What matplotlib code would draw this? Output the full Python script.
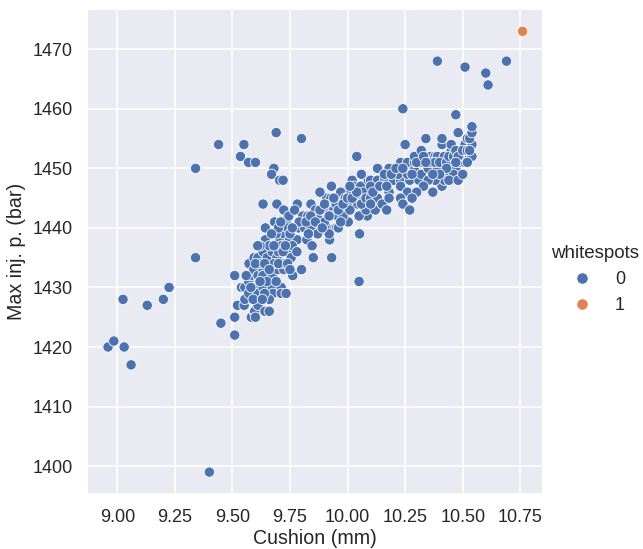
import matplotlib
matplotlib.use("Agg")
import matplotlib.pyplot as plt
import seaborn as sns
import pandas as pd

# Points (cushion in mm, max injection pressure in bar)
cushion = [
    8.96, 8.985, 9.03, 9.06, 9.025, 9.13, 9.20, 9.225, 9.34, 9.34, 9.40, 9.45,
    9.44, 9.51, 9.51, 9.51, 9.55, 9.535, 9.57, 9.60, 9.69, 9.80, 9.68, 9.67,
    9.705, 9.72, 10.04, 10.02, 10.05, 10.24, 10.39, 10.51, 10.60, 10.61, 10.69,
    10.47,
    # left part of the main band
    9.522, 9.539, 9.551, 9.554, 9.554, 9.571, 9.571, 9.572, 9.58, 9.582, 9.593,
    9.594, 9.594, 9.597, 9.597, 9.60, 9.611, 9.611, 9.611, 9.611, 9.633, 9.633,
    9.633, 9.633, 9.633, 9.641, 9.643, 9.643, 9.651, 9.673, 9.673, 9.673, 9.676,
    9.683, 9.693, 9.693, 9.697, 9.705, 9.712, 9.712, 9.712, 9.723, 9.723, 9.723,
    9.726, 9.733, 9.733, 9.741, 9.745, 9.748, 9.755, 9.762, 9.781, 9.782, 9.787,
    9.80, 9.805, 9.813, 9.823, 9.827, 9.841, 9.841, 9.846, 9.851,
    9.62, 9.66, 9.69, 9.70, 9.65, 9.68, 9.74, 9.76, 9.78, 9.79, 9.62, 9.59,
    9.66, 9.70, 9.77, 9.75,
    9.56, 9.58, 9.60, 9.62, 9.64, 9.66, 9.68, 9.70, 9.72, 9.74, 9.64, 9.66,
    9.61, 9.67, 9.71, 9.73, 9.76, 9.69, 9.63, 9.75,
    # middle of the band
    9.909, 9.928, 9.945, 9.913, 9.94, 9.928, 9.957, 9.91, 9.945, 9.952, 9.863,
    9.87, 9.888, 9.922, 10.0, 10.03, 10.057, 10.043, 10.072, 10.10, 10.115,
    10.122, 10.086, 10.043, 10.07, 10.003, 10.052, 9.931,
    9.88, 9.90, 9.95, 9.97, 9.98, 10.0, 10.01, 10.05, 10.07, 9.96, 9.99, 9.93,
    9.87, 9.86, 10.09, 10.06, 10.08, 9.92,
    9.82, 9.84, 9.86, 9.88, 9.90, 9.92, 9.94, 9.96, 9.98, 10.0, 10.02, 10.04,
    10.06, 10.08, 9.89, 9.83, 9.97, 10.01,
    # right part of the band
    10.10, 10.13, 10.16, 10.20, 10.23, 10.27, 10.31, 10.10, 10.15, 10.23, 10.26,
    10.18, 10.13, 10.18, 10.16, 10.22, 10.26, 10.29, 10.32, 10.23, 10.26, 10.29,
    10.32, 10.35, 10.39, 10.42, 10.45, 10.47, 10.49, 10.51, 10.29, 10.36, 10.38,
    10.39, 10.42, 10.50, 10.53, 10.54, 10.49, 10.32, 10.45, 10.41, 10.45, 10.51,
    10.54, 10.52, 10.53, 10.54, 10.34, 10.41, 10.25, 10.48, 10.54, 10.37, 10.41,
    10.42, 10.23, 10.24, 10.27, 10.12,
    10.46, 10.44, 10.48, 10.50, 10.38, 10.35, 10.33, 10.30, 10.28,
    10.10, 10.13, 10.15, 10.18, 10.10, 10.17,
    10.11, 10.14, 10.17, 10.19, 10.21, 10.24, 10.28, 10.30, 10.33, 10.36, 10.38,
    10.40, 10.43, 10.44, 10.46, 10.47, 10.48, 10.50, 10.52, 10.43, 10.40, 10.37,
    10.34, 10.47, 10.52, 10.53,
    # the single whitespot part
    10.76,
]
max_inj = [
    1420, 1421, 1420, 1417, 1428, 1427, 1428, 1430, 1435, 1450, 1399, 1424,
    1454, 1425, 1422, 1432, 1454, 1452, 1451, 1451, 1456, 1455, 1450, 1449,
    1448, 1448, 1452, 1448, 1431, 1460, 1468, 1467, 1466, 1464, 1468,
    1459,
    1427, 1430, 1427, 1428, 1430, 1429, 1431, 1434, 1432, 1425, 1433,
    1435, 1426, 1430, 1426, 1425, 1432, 1435, 1429, 1427, 1444, 1436,
    1433, 1432, 1430, 1426, 1440, 1438, 1435, 1436, 1432, 1430, 1429,
    1441, 1444, 1435, 1433, 1438, 1437, 1430, 1429, 1443, 1439, 1433,
    1434, 1441, 1429, 1436, 1442, 1438, 1435, 1432, 1438, 1444, 1440,
    1433, 1442, 1440, 1438, 1442, 1444, 1440, 1437, 1435,
    1434, 1437, 1439, 1436, 1431, 1434, 1440, 1437, 1436, 1441, 1437, 1428,
    1428, 1440, 1443, 1439,
    1432, 1430, 1434, 1431, 1434, 1433, 1437, 1434, 1436, 1434, 1429, 1426,
    1437, 1439, 1441, 1437, 1440, 1431, 1428, 1433,
    1445, 1445, 1445, 1443, 1443, 1442, 1442, 1440, 1440, 1440, 1441,
    1442, 1443, 1438, 1446, 1447, 1447, 1445, 1445, 1446, 1447,
    1443, 1442, 1444, 1444, 1441, 1439, 1435,
    1446, 1441, 1444, 1446, 1442, 1444, 1443, 1442, 1446, 1440, 1445, 1447,
    1439, 1443, 1448, 1449, 1443, 1439,
    1441, 1442, 1441, 1443, 1444, 1442, 1445, 1443, 1444, 1445, 1445, 1446,
    1444, 1445, 1440, 1439, 1441, 1447,
    1448, 1448, 1448, 1448, 1448, 1448, 1448, 1447, 1447, 1447, 1446,
    1446, 1450, 1450, 1449, 1449, 1449, 1450, 1449, 1451, 1451, 1451,
    1451, 1450, 1450, 1449, 1451, 1450, 1451, 1451, 1452, 1452, 1452,
    1452, 1452, 1452, 1452, 1452, 1453, 1453, 1453, 1454, 1454, 1454,
    1454, 1455, 1455, 1456, 1455, 1455, 1454, 1456, 1457, 1446, 1447,
    1448, 1445, 1444, 1443, 1443,
    1449, 1448, 1448, 1449, 1448, 1448, 1447, 1446, 1445,
    1445, 1445, 1444, 1445, 1444, 1443,
    1446, 1447, 1447, 1449, 1450, 1450, 1449, 1451, 1452, 1451, 1451,
    1451, 1451, 1452, 1452, 1453, 1452, 1453, 1453, 1450, 1449, 1449,
    1451, 1451, 1451, 1453,
    1473,
]
whitespots = [0] * (len(cushion) - 1) + [1]

df = pd.DataFrame({"Cushion (mm)": cushion,
                   "Max inj. p. (bar)": max_inj,
                   "whitespots": whitespots})

sns.set_theme(font_scale=1.07)
plt.rcParams["font.family"] = ["Liberation Sans", "DejaVu Sans"]
fig = plt.figure(figsize=(643 / 110, 549 / 110), dpi=110)
ax = fig.add_axes([0.1358, 0.100, 0.7092, 0.883])

sns.scatterplot(data=df, x="Cushion (mm)", y="Max inj. p. (bar)",
                hue="whitespots", palette=["#4c72b0", "#dd8452"], s=46, ax=ax)

# move the legend outside, like relplot does
handles, labels = ax.get_legend_handles_labels()
ax.get_legend().remove()
fig.legend(handles, labels, title="whitespots", loc="center left",
           bbox_to_anchor=(0.848, 0.49), borderaxespad=0, borderpad=0.3,
           frameon=False, markerscale=1.1, title_fontsize=12.3)

ax.set_xticks([9.00, 9.25, 9.50, 9.75, 10.00, 10.25, 10.50, 10.75])
ax.set_xticklabels(["9.00", "9.25", "9.50", "9.75", "10.00", "10.25", "10.50", "10.75"])
ax.set_xlabel("Cushion (mm)", labelpad=2)

fig.savefig("out.png", dpi=110)
